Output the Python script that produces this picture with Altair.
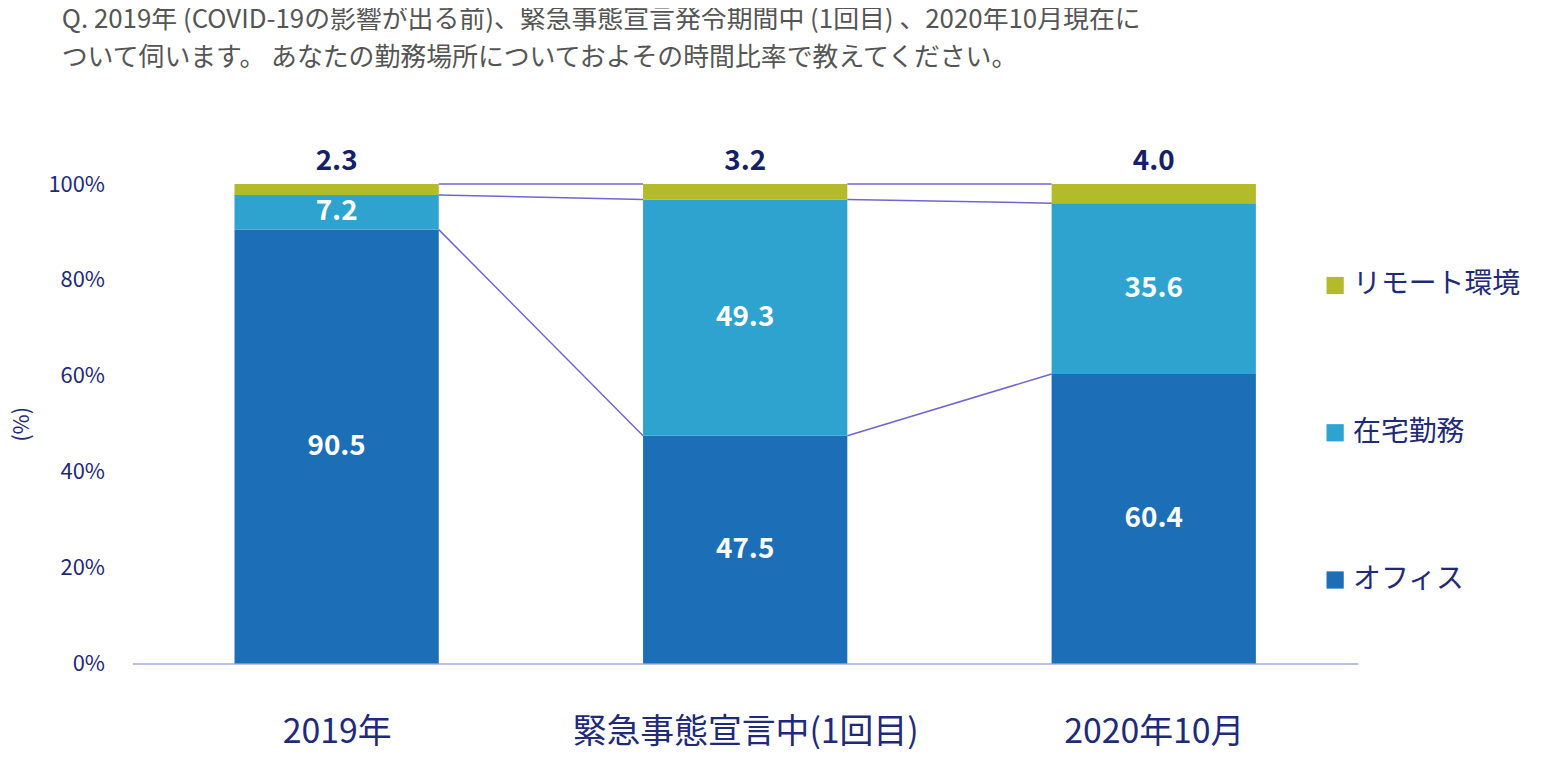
import altair as alt
import pandas as pd

categories = ["2019年", "緊急事態宣言中(1回目)", "2020年10月"]
office = [90.5, 47.5, 60.4]
home = [7.2, 49.3, 35.6]
remote = [2.3, 3.2, 4.0]
series = ["オフィス", "在宅勤務", "リモート環境"]
colors = ["#1c6fb7", "#2ea3cf", "#b3bb2b"]

rows = []
for i, c in enumerate(categories):
    base = 0.0
    for s, v in zip(series, [office[i], home[i], remote[i]]):
        rows.append({"idx": i, "xa": i - 0.25, "xb": i + 0.25, "series": s,
                     "y0": base, "y1": base + v, "mid": base + v / 2, "val": v,
                     "lab": f"{v:.1f}"})
        base += v
df = pd.DataFrame(rows)

lines = []
for i in range(len(categories) - 1):
    for a, b in [(office[i], office[i + 1]),
                 (office[i] + home[i], office[i + 1] + home[i + 1]),
                 (100.0, 100.0)]:
        lines.append({"x": i + 0.25, "x2": i + 0.75, "y": a, "y2": b})
ldf = pd.DataFrame(lines)

navy = "#1f2a78"
xs = alt.Scale(domain=[-0.5, 2.5], nice=False, zero=False)
ys = alt.Scale(domain=[0, 100], nice=False)

bars = alt.Chart(df).mark_rect().encode(
    x=alt.X("xa:Q", scale=xs, axis=alt.Axis(values=[0, 1, 2], title=None,
            labelExpr="['2019年','緊急事態宣言中(1回目)','2020年10月'][datum.value]",
            labelFontSize=34, labelColor=navy, labelPadding=52, ticks=False,
            labelLimit=0, grid=False, domainColor="#a8a8d8", domainWidth=1.5)),
    x2="xb:Q",
    y=alt.Y("y0:Q", scale=ys, axis=alt.Axis(values=[0, 20, 40, 60, 80, 100],
            labelExpr="datum.value + '%'", title="(%)", titleFontSize=22,
            titleColor=navy, titleFontWeight="normal", titlePadding=14,
            labelFontSize=22, labelColor=navy, labelPadding=28, ticks=False,
            domain=False, grid=False)),
    y2="y1:Q",
    color=alt.Color("series:N", scale=alt.Scale(domain=series[::-1], range=colors[::-1]),
                    legend=alt.Legend(title=None, orient="none", legendX=1195,
                                      legendY=88, symbolType="square",
                                      symbolSize=300, labelFontSize=28,
                                      labelColor=navy, rowPadding=120,
                                      labelLimit=0, symbolStrokeWidth=0)),
)

conn = alt.Chart(ldf).mark_rule(color="#7265cf", strokeWidth=1.5).encode(
    x=alt.X("x:Q", scale=xs), x2="x2:Q", y=alt.Y("y:Q", scale=ys), y2="y2:Q")

inner = alt.Chart(df[df.series != "リモート環境"]).mark_text(
    color="white", fontSize=28, fontWeight="bold").encode(
    x=alt.X("idx:Q", scale=xs), y=alt.Y("mid:Q", scale=ys), text="lab:N")

top = alt.Chart(df[df.series == "リモート環境"]).mark_text(
    color="#16206a", fontSize=28, fontWeight="bold", dy=-22).encode(
    x=alt.X("idx:Q", scale=xs), y=alt.Y("y1:Q", scale=ys), text="lab:N")

chart = alt.layer(bars, conn, inner, top).properties(
    width=1232, height=482,
    padding={"left": 125, "top": 175, "right": 198, "bottom": 100},
    autosize=alt.AutoSizeParams(type="none"),
    title=alt.TitleParams(
        ["Q. 2019年 (COVID-19の影響が出る前)、緊急事態宣言発令期間中 (1回目) 、2020年10月現在に",
         "　 ついて伺います。  あなたの勤務場所についておよその時間比率で教えてください。"],
        anchor="start", frame="group", dx=-71, offset=78, fontSize=26,
        fontWeight="normal", color="#555555", lineHeight=38),
).configure(font="Noto Sans CJK JP").configure_view(stroke=None)

chart.save("out.html", embed_options={"renderer": "svg", "actions": False})
